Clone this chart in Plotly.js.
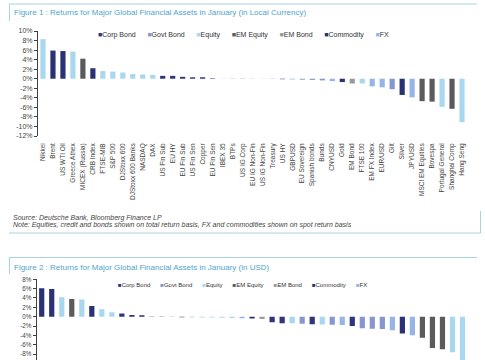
<!DOCTYPE html>
<html><head><meta charset="utf-8">
<script src="https://cdn.plot.ly/plotly-3.0.1.min.js"></script>
<style>html,body{margin:0;padding:0;width:485px;height:360px;overflow:hidden;background:#fff}</style>
</head><body><div id="chart" style="width:485px;height:480px"></div>
<script>
// ---------- DATA ----------
const fig1Categories = ['Nikkei','Brent','US WTI Oil','Greece Athex','MICEX (Russia)','CRB Index','FTSE-MIB','S&P 500','DJStoxx 600','DJStoxx 600 Banks','NASDAQ','DAX','US Fin Sub','EU HY','EU Fin Sub','US Fin Sen','Copper','EU Fin Sen','IBEX 35','BTPs','US IG Corp','EU IG Non-Fin','US IG Non-Fin','Treasury','US HY','GBPUSD','EU Sovereign','Spanish bonds','Bunds','CNYUSD','Gold','EM Bond','FTSE 100','EM FX Index','EUR/USD','Gilt','Silver','JPYUSD','MSCI EM Equities','Bovespa','Portugal General','Shanghai Comp','Hang Seng'];
const fig1Values = [8.3,5.9,5.8,5.7,4.2,2.2,1.6,1.5,1.3,1.0,0.9,0.8,0.6,0.6,0.4,0.3,0.3,0.1,0.05,0.05,0.03,0.02,0.01,-0.05,-0.1,-0.15,-0.2,-0.25,-0.35,-0.5,-0.7,-1.0,-1.0,-1.6,-1.8,-2.2,-3.4,-3.9,-4.7,-4.8,-5.9,-6.3,-9.1];
const fig1Groups = ['Equity','Commodity','Commodity','Equity','EM Equity','Commodity','Equity','Equity','Equity','Equity','Equity','Equity','Corp Bond','Corp Bond','Corp Bond','Corp Bond','Commodity','Corp Bond','Equity','Govt Bond','Corp Bond','Corp Bond','Corp Bond','Govt Bond','Corp Bond','FX','Govt Bond','Govt Bond','Govt Bond','FX','Commodity','EM Bond','Equity','FX','FX','Govt Bond','Commodity','FX','EM Equity','EM Equity','Equity','EM Equity','Equity'];

const fig2Categories = ['Brent','US WTI Oil','Nikkei','MICEX (Russia)','Greece Athex','CRB Index','S&P 500','NASDAQ','US Fin Sub','US Fin Sen','Copper','US IG Corp','US IG Non-Fin','Treasury','US HY','GBPUSD','DJStoxx 600','FTSE-MIB','DJStoxx 600 Banks','DAX','CNYUSD','Gold','EM Bond','EU HY','EU Fin Sub','FTSE 100','BTPs','EU Fin Sen','IBEX 35','EU Sovereign','EM FX Index','EU IG Non-Fin','Spanish bonds','Bunds','Gilt','EUR/USD','Silver','JPYUSD','MSCI EM Equities','Bovespa','Shanghai Comp','Portugal General','Hang Seng'];
const fig2Values = [6.1,5.9,4.15,3.8,3.7,2.3,1.6,0.95,0.65,0.35,0.3,0.05,0.02,-0.05,-0.1,-0.15,-0.2,-0.2,-0.25,-0.3,-0.35,-0.4,-0.5,-1.2,-1.4,-1.4,-1.5,-1.6,-1.7,-1.75,-1.8,-2.0,-2.5,-2.6,-2.65,-2.9,-3.6,-4.0,-4.5,-6.7,-7.0,-7.6,-9.4];
const fig2Groups = ['Commodity','Commodity','Equity','EM Equity','Equity','Commodity','Equity','Equity','Corp Bond','Corp Bond','Commodity','Corp Bond','Corp Bond','Govt Bond','Corp Bond','FX','Equity','Equity','Equity','Equity','FX','Commodity','EM Bond','Corp Bond','Corp Bond','Equity','Govt Bond','Corp Bond','Equity','Govt Bond','FX','Corp Bond','Govt Bond','Govt Bond','Govt Bond','FX','Commodity','FX','EM Equity','EM Equity','EM Equity','Equity','Equity'];

const groupNames = ['Corp Bond','Govt Bond','Equity','EM Equity','EM Bond','Commodity','FX'];
const fig1YTicks = [10,8,6,4,2,0,-2,-4,-6,-8,-10,-12];
const fig2YTicks = [8,6,4,2,0,-2,-4,-6,-8];

// ---------- STYLE ----------
const colorOf = {
  'Corp Bond':'#2e3578','Govt Bond':'#8796d0','Equity':'#a9d8ee','EM Equity':'#5b5b5b',
  'EM Bond':'#9a9a9a','Commodity':'#2a3174','FX':'#96b5e6'
};
const W = 485, H = 480;
const px = v => v / W;
const py = v => 1 - v / H;
const FONT = 'Arial, "Liberation Sans", sans-serif';
const AX = '#404040';
const TXT = '#444444';

function makeTraces(cats, vals, groups, xa, ya) {
  return groupNames.map(g => {
    const idx = cats.map((c, i) => i).filter(i => groups[i] === g);
    return {
      type: 'bar', name: g, xaxis: xa, yaxis: ya,
      x: idx, y: idx.map(i => vals[i]), text: idx.map(i => cats[i]),
      textposition: 'none',
      width: 0.52, marker: {color: colorOf[g], line: {width: 0}},
      hoverinfo: 'text+y', showlegend: false
    };
  });
}

const traces = [].concat(
  makeTraces(fig1Categories, fig1Values, fig1Groups, 'x', 'y'),
  makeTraces(fig2Categories, fig2Values, fig2Groups, 'x2', 'y2')
);

function zeroPos(dom, rng) { return dom[0] + (0 - rng[0]) / (rng[1] - rng[0]) * (dom[1] - dom[0]); }

const y1Dom = [py(136), py(31)], y1Rng = [-12, 10];
const y2Dom = [py(372.7), py(279.3)], y2Rng = [-12, 8];
const x1Dom = [px(38), px(467)], x2Dom = [px(36.7), px(467.5)];
const n1 = fig1Categories.length, n2 = fig2Categories.length;

function labelAxis(dom, n, cats, anchor, fs, show) {
  return {domain: dom, anchor: anchor, range: [-0.5, n - 0.5], tickmode: 'array',
    tickvals: cats.map((c, i) => i), ticktext: cats, tickangle: -90, ticks: '',
    ticklabelstandoff: 5, showline: false, showgrid: false, zeroline: false,
    showticklabels: show,
    tickfont: {family: FONT, size: fs, color: TXT}, fixedrange: true};
}
function zeroAxis(over, dom, n, pos) {
  return {overlaying: over, anchor: 'free', position: pos, domain: dom, range: [-0.5, n - 0.5],
    tickmode: 'linear', tick0: -0.5, dtick: 1, ticks: 'outside', ticklen: 3, tickcolor: AX,
    showline: true, linecolor: AX, linewidth: 1, showticklabels: false, showgrid: false, zeroline: false};
}
function valueAxis(dom, rng, ticks, anchor, fs) {
  return {domain: dom, anchor: anchor, range: rng, tickmode: 'array', tickvals: ticks,
    ticktext: ticks.map(v => v + '%'), ticks: 'outside', ticklen: 3, tickcolor: AX,
    showline: true, linecolor: AX, linewidth: 1, showgrid: false, zeroline: false,
    tickfont: {family: FONT, size: fs, color: TXT}};
}
function legendText(gap) {
  const sp = '&nbsp;'.repeat(gap);
  return groupNames.map(g => `<span style="color:${colorOf[g]}">■</span>${g}`).join(sp);
}

const frame = '#a9d4dc';
const line = (x0, y0, x1, y1) => ({type: 'line', xref: 'paper', yref: 'paper',
  x0: px(x0), y0: py(y0), x1: px(x1), y1: py(y1), line: {color: frame, width: 1}});

const layout = {
  width: W, height: H, margin: {l: 0, r: 0, t: 0, b: 0},
  paper_bgcolor: '#fff', plot_bgcolor: 'rgba(0,0,0,0)',
  barmode: 'overlay', showlegend: false, font: {family: FONT, color: TXT},
  xaxis: labelAxis(x1Dom, n1, fig1Categories, 'y', 6.5, true),
  yaxis: valueAxis(y1Dom, y1Rng, fig1YTicks, 'x', 7),
  xaxis3: zeroAxis('x', x1Dom, n1, zeroPos(y1Dom, y1Rng)),
  xaxis2: labelAxis(x2Dom, n2, fig2Categories, 'y2', 6, false),
  yaxis2: valueAxis(y2Dom, y2Rng, fig2YTicks, 'x2', 6.3),
  xaxis4: zeroAxis('x2', x2Dom, n2, zeroPos(y2Dom, y2Rng)),
  shapes: [
    line(9, 4, 477, 4), line(9.5, 4, 9.5, 21),
    line(9, 233, 481, 233), line(480.5, 211, 480.5, 233),
    line(9, 257.5, 477, 257.5), line(9.5, 257.5, 9.5, 274)
  ],
  annotations: [
    {text: 'Figure 1 : Returns for Major Global Financial Assets in January (in Local Currency)',
     xref: 'paper', yref: 'paper', x: px(12), y: py(12.5), xanchor: 'left', yanchor: 'middle',
     showarrow: false, font: {family: FONT, size: 8, color: '#4ea6cc'}},
    {text: legendText(6), xref: 'paper', yref: 'paper', x: px(96), y: py(34.5),
     xanchor: 'left', yanchor: 'middle', showarrow: false, font: {family: FONT, size: 7, color: '#333'}},
    {text: '<i>Source: Deutsche Bank, Bloomberg Finance LP</i>', xref: 'paper', yref: 'paper',
     x: px(11), y: py(217.5), xanchor: 'left', yanchor: 'middle', showarrow: false,
     font: {family: FONT, size: 7, color: '#444'}},
    {text: '<i>Note: Equities, credit and bonds shown on total return basis, FX and commodities shown on spot return basis</i>',
     xref: 'paper', yref: 'paper', x: px(11), y: py(225.5), xanchor: 'left', yanchor: 'middle',
     showarrow: false, font: {family: FONT, size: 7, color: '#444'}},
    {text: 'Figure 2 : Returns for Major Global Financial Assets in January (in USD)',
     xref: 'paper', yref: 'paper', x: px(12), y: py(267), xanchor: 'left', yanchor: 'middle',
     showarrow: false, font: {family: FONT, size: 8, color: '#4ea6cc'}},
    {text: legendText(6), xref: 'paper', yref: 'paper', x: px(116), y: py(285),
     xanchor: 'left', yanchor: 'middle', showarrow: false, font: {family: FONT, size: 6, color: '#333'}}
  ]
};

Plotly.newPlot('chart', traces, layout, {staticPlot: true, displayModeBar: false});
</script></body></html>
